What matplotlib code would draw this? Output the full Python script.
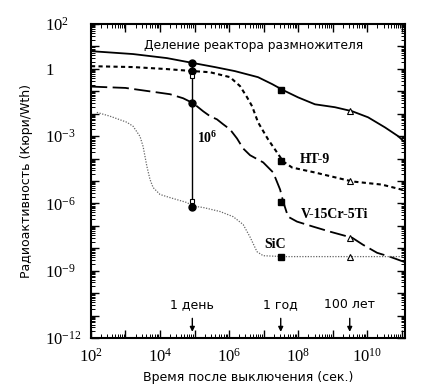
import matplotlib.pyplot as plt
import numpy as np
from matplotlib.ticker import LogLocator, NullFormatter

# curve points as (log10 t, log10 activity)
breeder_lx = [2.0, 3.22, 4.2, 4.96, 5.59, 6.17, 6.84, 7.25, 7.57, 8.0, 8.49, 9.07, 9.57, 10.03, 10.52, 10.9, 11.1]
breeder_ly = [0.79, 0.66, 0.48, 0.26, 0.08, -0.10, -0.37, -0.68, -0.95, -1.27, -1.58, -1.71, -1.89, -2.16, -2.61, -3.0, -3.28]

ht9_lx = [2.0, 3.22, 4.2, 4.96, 5.45, 6.03, 6.32, 6.52, 6.67, 6.84, 7.13, 7.33, 7.57, 7.83, 8.49, 9.57, 10.43, 11.1]
ht9_ly = [0.12, 0.08, -0.01, -0.10, -0.15, -0.37, -0.77, -1.26, -1.67, -2.38, -3.14, -3.59, -4.13, -4.40, -4.62, -5.02, -5.16, -5.42]

v_lx = [2.0, 3.0, 3.6, 4.29, 4.67, 4.96, 5.25, 5.45, 5.65, 5.83, 6.03, 6.23, 6.41, 6.61, 6.99, 7.28, 7.48, 7.57,
        7.71, 7.97, 8.43, 8.93, 9.57, 9.88, 10.29, 10.67, 11.1]
v_ly = [-0.79, -0.85, -0.98, -1.13, -1.31, -1.53, -1.89, -2.11, -2.25, -2.47, -2.70, -3.10, -3.55, -3.85, -4.17, -4.62, -5.38, -5.92,
        -6.59, -6.81, -7.03, -7.26, -7.53, -7.84, -8.20, -8.38, -8.62]

sic_lx = [2.17, 2.55, 3.04, 3.22, 3.42, 3.51, 3.62, 3.71, 3.80, 4.0, 4.29, 4.78, 4.96, 5.25, 5.74, 6.12, 6.41, 6.61, 6.81, 6.99, 7.57, 9.57, 11.1]
sic_ly = [-1.94, -2.11, -2.38, -2.56, -3.01, -3.46, -4.35, -4.93, -5.29, -5.60, -5.74, -5.96, -6.12, -6.18, -6.36, -6.59, -6.94, -7.50, -8.15, -8.33, -8.37, -8.37, -8.37]

day, year, century = 86400, 3.15e7, 3.15e9
day_filled = [0.26, -0.10, -1.53, -6.14]
day_open = [-0.33, -5.9]
year_sq = [-0.95, -4.13, -5.92, -8.37]
century_tri = [-1.89, -5.02, -7.53, -8.37]

serif = 'Liberation Serif'

fig = plt.figure(figsize=(4.3, 3.91), dpi=100)
ax = fig.add_axes([0.2116, 0.1355, 0.7303, 0.8031])

ax.plot(10 ** np.array(breeder_lx), 10 ** np.array(breeder_ly), color='k', lw=1.3)
ax.plot(10 ** np.array(ht9_lx), 10 ** np.array(ht9_ly), color='k', lw=1.5, dashes=(2, 1.6))
ax.plot(10 ** np.array(v_lx), 10 ** np.array(v_ly), color='k', lw=1.3, dashes=(9, 3))
ax.plot(10 ** np.array(sic_lx), 10 ** np.array(sic_ly), color='#666666', lw=0.9, dashes=(1, 1.2))

# vertical line at 1 day
ax.plot([day, day], [10 ** day_filled[0], 10 ** day_filled[-1]], color='k', lw=1.0)
ax.plot([day] * 4, 10 ** np.array(day_filled), 'o', color='k', ms=5)
ax.plot([day] * 2, 10 ** np.array(day_open), 's', mfc='white', mec='k', ms=3.5, mew=0.8)
ax.plot([year] * 4, 10 ** np.array(year_sq), 's', color='k', ms=5)
ax.plot([century] * 4, 10 ** np.array(century_tri), '^', mfc='white', mec='k', ms=5, mew=0.8)

ax.set_xscale('log')
ax.set_yscale('log')
ax.set_xlim(1e2, 10 ** 11.1)
ax.set_ylim(1e-12, 1e2)

xt = [10.0 ** k for k in range(2, 12)]
ax.set_xticks(xt)
ax.set_xticklabels([r'$\mathregular{10^{%d}}$' % k if k % 2 == 0 else '' for k in range(2, 12)])
yt = [10.0 ** k for k in range(-12, 3)]
ax.set_yticks(yt)
ylab = []
for k in range(-12, 3):
    if k == 0:
        ylab.append('1')
    elif k % 3 == 0 or k == 2:
        ylab.append(r'$\mathregular{10^{%d}}$' % k)
    else:
        ylab.append('')
ax.set_yticklabels(ylab)
ax.xaxis.set_minor_locator(LogLocator(base=10, subs=np.arange(2, 10), numticks=20))
ax.yaxis.set_minor_locator(LogLocator(base=10, subs=np.arange(2, 10), numticks=20))
ax.xaxis.set_minor_formatter(NullFormatter())
ax.yaxis.set_minor_formatter(NullFormatter())
ax.tick_params(which='both', direction='in', top=True, right=True)
ax.tick_params(which='major', length=6, width=1)
ax.tick_params(which='minor', length=3, width=0.7)
ax.tick_params(axis='x', labelsize=12, pad=7)
ax.tick_params(axis='y', labelsize=12, pad=33)
for lab in ax.get_xticklabels() + ax.get_yticklabels():
    lab.set_fontfamily(serif)
for lab in ax.get_yticklabels():
    lab.set_horizontalalignment('left')
for s in ax.spines.values():
    s.set_linewidth(1.5)

ax.set_xlabel('Время после выключения (сек.)', fontsize=9, labelpad=4)
ax.set_ylabel('Радиоактивность (Кюри/Wth)', fontsize=9, labelpad=9)

ax.text(10 ** 6.7, 10 ** 1.05, 'Деление реактора размножителя', fontsize=8.8, ha='center', va='center')
ax.text(10 ** 5.36, 10 ** -3.1, r'$\mathregular{10^6}$', fontfamily=serif, fontweight='bold', fontsize=10, ha='center', va='center')
ax.text(10 ** 8.06, 10 ** -4.04, 'HT-9', fontfamily=serif, fontweight='bold', fontsize=10, ha='left', va='center')
ax.text(10 ** 8.08, 10 ** -6.5, 'V-15Cr-5Ti', fontfamily=serif, fontweight='bold', fontsize=10, ha='left', va='center')
ax.text(10 ** 7.33, 10 ** -7.84, 'SiC', fontfamily=serif, fontweight='bold', fontsize=10, ha='center', va='center')

for t, name in [(day, '1 день'), (year, '1 год'), (century, '100 лет')]:
    ax.annotate('', xy=(t, 10 ** -11.85), xytext=(t, 10 ** -11.0),
                arrowprops=dict(arrowstyle='-|>', color='k', lw=1, mutation_scale=7))
    ax.text(t, 10 ** -10.5, name, fontsize=9, ha='center', va='center')

fig.savefig('out.png', dpi=100)
